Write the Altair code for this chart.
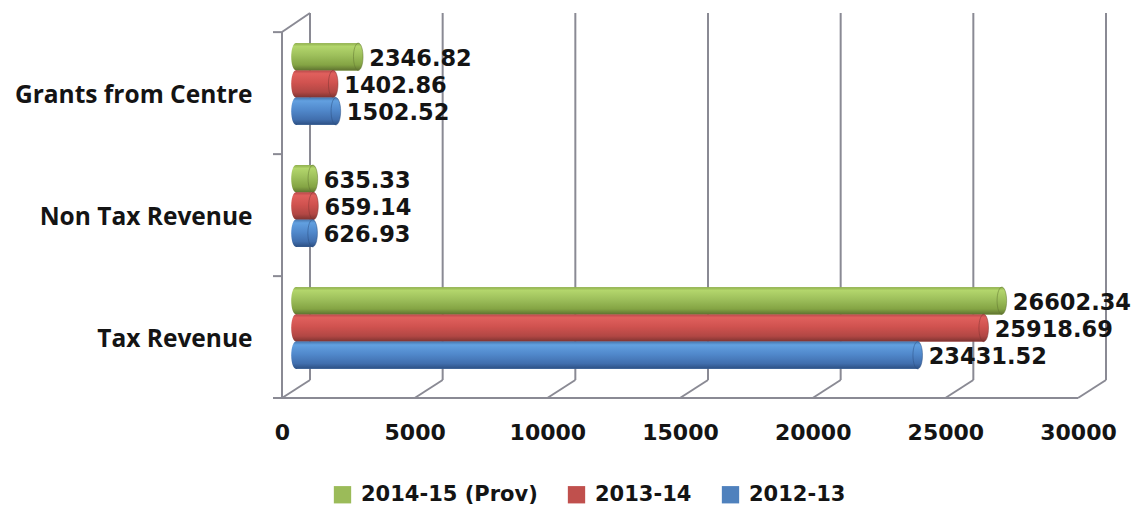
import altair as alt
import pandas as pd

# Revenue receipts by head, three years
categories = ["Grants from Centre", "Non Tax Revenue", "Tax Revenue"]
series = ["2014-15 (Prov)", "2013-14", "2012-13"]
values_2014_15 = [2346.82, 635.33, 26602.34]
values_2013_14 = [1402.86, 659.14, 25918.69]
values_2012_13 = [1502.52, 626.93, 23431.52]
x_ticks = [0, 5000, 10000, 15000, 20000, 25000, 30000]

base_colors = ["#9bbb59", "#c0504d", "#4f81bd"]
# cylinder shading, top edge -> highlight -> body -> shadow -> bottom edge
shading = {
    "2014-15 (Prov)": ["#8eae4c", "#b3d66c", "#9dbf5b", "#84a444", "#5f7330"],
    "2013-14": ["#b8494a", "#e0605d", "#d0524f", "#b14744", "#7d3331"],
    "2012-13": ["#4878b0", "#62a0e0", "#5189cc", "#416fae", "#2c4f82"],
}
stop_offsets = [0, 0.12, 0.45, 0.8, 1]

LINE = "#8a8a94"
TEXT = "#141414"
NUM_FONT = "DejaVu Sans"
CAT_FONT = "Open Sans"

rows = []
for s, vals in zip(series, [values_2014_15, values_2013_14, values_2012_13]):
    for c, v in zip(categories, vals):
        rows.append({"category": c, "series": s, "value": v, "label": f"{v:.2f}"})
df = pd.DataFrame(rows)
ticks_df = pd.DataFrame({"v": x_ticks})
one = pd.DataFrame({"a": [0]})
cats_df = pd.DataFrame({"category": categories})

x_scale = alt.Scale(domain=[0, 30000], nice=False, zero=True)
y_scale = alt.Scale(domain=categories, paddingInner=0.33, paddingOuter=0.165)
off_scale = alt.Scale(domain=series, paddingInner=0, paddingOuter=0)

DEPTH_X = 14  # half depth of the 3-D box, horizontal
ELLIPSE = "M0,-1A0.35,1 0 1,1 0,1A0.35,1 0 1,1 0,-1Z"
CAP_SIZE = 745

x_enc = alt.X(
    "value:Q",
    scale=x_scale,
    axis=alt.Axis(
        values=x_ticks,
        format="d",
        grid=False,
        domain=False,
        ticks=False,
        offset=9,
        labelOffset=-DEPTH_X,
        labelPadding=24,
        labelFlush=False,
        labelOverlap=False,
        labelFont=NUM_FONT,
        labelFontSize=22,
        labelFontWeight="bold",
        labelColor=TEXT,
        title=None,
    ),
)
y_enc = alt.Y(
    "category:N",
    scale=y_scale,
    sort=categories,
    axis=alt.Axis(
        domain=False,
        ticks=False,
        grid=False,
        labelPadding=44,
        labelOffset=12,
        labelFont=CAT_FONT,
        labelFontSize=24.5,
        labelFontWeight="bold",
        labelColor=TEXT,
        labelLimit=400,
        title=None,
    ),
)
yo_enc = alt.YOffset("series:N", scale=off_scale, sort=series)

# back wall gridlines
grid = alt.Chart(ticks_df).mark_rule(color=LINE, strokeWidth=2, xOffset=DEPTH_X).encode(
    x=alt.X("v:Q", scale=x_scale), y=alt.value(-10), y2=alt.value(357)
)
# floor lines running from back wall to front edge
floor_diag = alt.Chart(ticks_df).mark_rule(
    color=LINE, strokeWidth=2, xOffset=DEPTH_X, x2Offset=-DEPTH_X
).encode(x=alt.X("v:Q", scale=x_scale), x2="v:Q", y=alt.value(357), y2=alt.value(375))
# front edge of the floor
floor_front = alt.Chart(one).mark_rule(
    color=LINE, strokeWidth=2, xOffset=-DEPTH_X - 9, x2Offset=-DEPTH_X
).encode(x=alt.datum(0, scale=x_scale), x2=alt.datum(30000), y=alt.value(375))
# left wall: front edge and top edge
wall_front = alt.Chart(one).mark_rule(color=LINE, strokeWidth=2, xOffset=-DEPTH_X).encode(
    x=alt.datum(0), y=alt.value(9), y2=alt.value(375)
)
wall_top = alt.Chart(one).mark_rule(
    color=LINE, strokeWidth=2, xOffset=-DEPTH_X, x2Offset=DEPTH_X
).encode(x=alt.datum(0), x2=alt.datum(0), y=alt.value(9), y2=alt.value(-10))
# category ticks on the front wall edge
cat_ticks = alt.Chart(cats_df).mark_rule(
    color=LINE, strokeWidth=2, xOffset=-DEPTH_X - 9, x2Offset=-DEPTH_X, yOffset=-11
).encode(
    x=alt.datum(0),
    x2=alt.datum(0),
    y=alt.Y("category:N", scale=y_scale, sort=categories, bandPosition=0),
)

base_bars = alt.Chart(df).mark_bar().encode(
    x=x_enc,
    y=y_enc,
    yOffset=yo_enc,
    color=alt.Color(
        "series:N",
        scale=alt.Scale(domain=series, range=base_colors),
        sort=series,
        legend=alt.Legend(
            orient="none",
            direction="horizontal",
            legendX=36,
            legendY=461,
            title=None,
            symbolType="square",
            symbolSize=300,
            symbolStrokeWidth=0,
            labelFont=NUM_FONT,
            labelFontSize=21,
            labelFontWeight="bold",
            labelColor=TEXT,
            labelLimit=400,
            labelOffset=8,
            columnPadding=28,
        ),
    ),
)


def gradient(s):
    return alt.Gradient(
        gradient="linear",
        stops=[alt.GradientStop(color=c, offset=o) for c, o in zip(shading[s], stop_offsets)],
        x1=0,
        x2=0,
        y1=0,
        y2=1,
    )


shaded = []
for s in series:
    sub = alt.Chart(df).transform_filter(alt.datum.series == s)
    shaded.append(
        sub.mark_bar(color=gradient(s)).encode(
            x=alt.X("value:Q", scale=x_scale), y=alt.Y("category:N", scale=y_scale), yOffset=yo_enc
        )
    )
    shaded.append(
        sub.mark_point(
            shape=ELLIPSE, size=CAP_SIZE, filled=True, opacity=1, color=gradient(s)
        ).encode(x=alt.datum(0), y=alt.Y("category:N", scale=y_scale), yOffset=yo_enc)
    )
    shaded.append(
        sub.mark_point(
            shape=ELLIPSE,
            size=CAP_SIZE,
            filled=True,
            opacity=1,
            color=gradient(s),
            stroke=shading[s][4],
            strokeWidth=1,
            strokeOpacity=0.5,
        ).encode(x=alt.X("value:Q", scale=x_scale), y=alt.Y("category:N", scale=y_scale), yOffset=yo_enc)
    )

labels = alt.Chart(df).mark_text(
    align="left", baseline="middle", dx=11, dy=2, font=NUM_FONT, fontSize=22.5,
    fontWeight="bold", color=TEXT,
).encode(x=alt.X("value:Q", scale=x_scale), y=alt.Y("category:N", scale=y_scale), yOffset=yo_enc, text="label:N")

chart = (
    alt.layer(grid, floor_diag, floor_front, wall_front, wall_top, cat_ticks, base_bars, *shaded, labels)
    .properties(
        width=796,
        height=366,
        padding={"left": 296, "top": 23, "right": 43, "bottom": 118},
        autosize=alt.AutoSizeParams(type="none"),
        background="white",
    )
    .configure_view(stroke=None)
)

chart.save("out.html", embed_options={"renderer": "svg", "actions": False})
